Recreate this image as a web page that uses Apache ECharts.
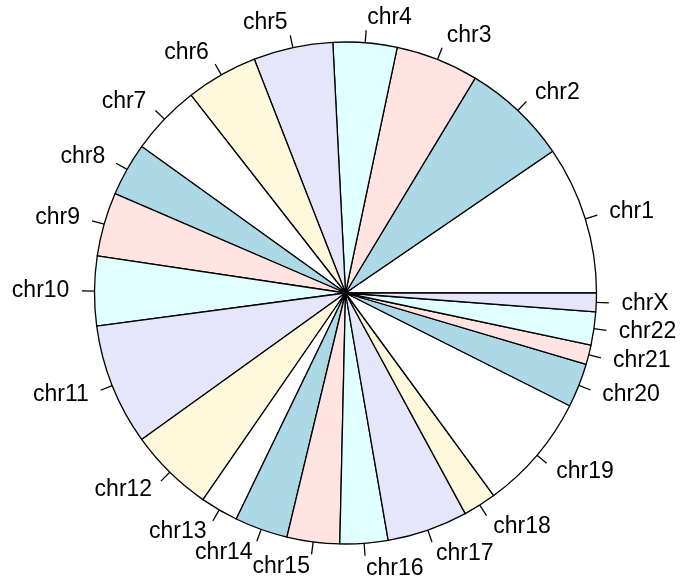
<!DOCTYPE html>
<html>
<head>
<meta charset="utf-8">
<script src="https://cdn.jsdelivr.net/npm/echarts@6/dist/echarts.min.js"></script>
<style>html,body{margin:0;padding:0;background:#fff;}#c{width:690px;height:580px;}</style>
</head>
<body>
<div id="c"></div>
<script>
const categories = ['chr1','chr2','chr3','chr4','chr5','chr6','chr7','chr8','chr9','chr10','chr11','chr12','chr13','chr14','chr15','chr16','chr17','chr18','chr19','chr20','chr21','chr22','chrX'];
const values = [34.4,24.5,19.2,14.8,18.4,16.7,16.3,12.4,14.8,16.1,28.1,19.7,8.8,12.3,12.2,11.1,18.7,7.7,27.1,10.2,4.5,7.7,4.3];
const palette = ['#FFFFFF','#ADD8E6','#FFE4E1','#E0FFFF','#E6E6FA','#FFF8DC'];

const R = 251;
const chart = echarts.init(document.getElementById('c'), null, {renderer: 'canvas'});
const dataA = categories.map((c, i) => ({name: c, value: values[i], itemStyle: {color: palette[i % palette.length]}}));
const dataB = categories.map((c, i) => ({name: c, value: values[i]}));
const font = {fontFamily: 'Liberation Sans, Arial, sans-serif', fontSize: 23, color: '#000'};
chart.setOption({
  animation: false,
  backgroundColor: '#fff',
  series: [
    {
      type: 'pie', center: [345.5, 293], radius: R, startAngle: 0, clockwise: false,
      avoidLabelOverlap: false, silent: true,
      labelLayout: {hideOverlap: false},
      itemStyle: {borderColor: '#000', borderWidth: 1.3},
      label: {show: true, position: 'outside', formatter: ' ', fontSize: 1, distanceToLabelLine: 0, color: 'rgba(0,0,0,0)'},
      labelLine: {show: true, length: R * 0.05, length2: 0, smooth: false, lineStyle: {color: '#000', width: 1.3}},
      emphasis: {disabled: true},
      data: dataA
    },
    {
      type: 'pie', center: [345.5, 293], radius: R, startAngle: 0, clockwise: false,
      avoidLabelOverlap: false, silent: true,
      labelLayout: {hideOverlap: false},
      itemStyle: {color: 'rgba(0,0,0,0)', borderWidth: 0},
      label: Object.assign({show: true, position: 'outside', formatter: '{b}', distanceToLabelLine: 0}, font),
      labelLine: {show: false, length: R * 0.1, length2: 0},
      emphasis: {disabled: true},
      data: dataB
    }
  ]
});
</script>
</body>
</html>
